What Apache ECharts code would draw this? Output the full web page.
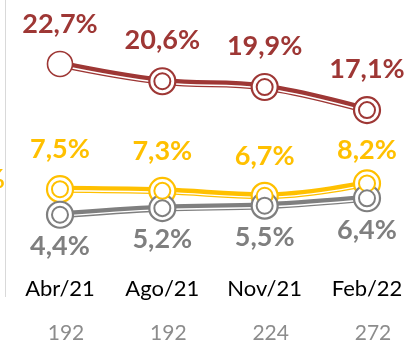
<!DOCTYPE html>
<html>
<head>
<meta charset="utf-8">
<script src="https://cdn.jsdelivr.net/npm/echarts@6/dist/echarts.min.js"></script>
<style>
  html, body { margin: 0; padding: 0; background: #fff; }
  #chart { width: 408px; height: 345px; }
</style>
</head>
<body>
<div id="chart"></div>
<script>
// Survey periods and sample sizes per period
const categories = ['Abr/21', 'Ago/21', 'Nov/21', 'Feb/22'];
const sampleSizes = ['192', '192', '224', '272'];

// Share (%) per period for each group
const redValues = [22.7, 20.6, 19.9, 17.1];
const yellowValues = [7.5, 7.3, 6.7, 8.2];
const grayValues = [4.4, 5.2, 5.5, 6.4];

const RED = '#9E3735';
const YELLOW = '#FFC000';
const GRAY = '#7F7F7F';
const FONT = 'Lato';

const fmt = (p) => p.value.toFixed(1).replace('.', ',') + '%';

const chart = echarts.init(document.getElementById('chart'), null, { renderer: 'canvas' });

const gridMain = { left: 60, right: 41, top: 45, height: 206 };
const gridStripe = { left: 60, right: 41, top: 46.5, height: 206 };

function lineSeries(values, color, labelPos, labelDist, opts) {
  opts = opts || {};
  const out = [];
  // thick coloured band
  out.push({
    type: 'line', data: values, xAxisIndex: 0, yAxisIndex: 0,
    smooth: 0.4, symbol: 'none', silent: true,
    lineStyle: { color: color, width: 7, cap: 'round' },
    z: 2
  });
  // thin white gap of the double stroke
  out.push({
    type: 'line', data: values, xAxisIndex: 2, yAxisIndex: 1,
    smooth: 0.4, symbol: 'none', silent: true,
    lineStyle: { color: '#ffffff', width: 1.4 },
    z: 3
  });
  // outer ring of each marker, carries the value label
  out.push({
    type: 'line', data: values.map((v, i) => {
      const item = { value: v };
      if (opts.singleRingFirst && i === 0) {
        item.symbolSize = 25;
        item.itemStyle = { borderWidth: 1.6 };
      }
      if (opts.labelDist && opts.labelDist[i] != null) {
        item.label = { distance: opts.labelDist[i] };
      }
      return item;
    }),
    xAxisIndex: 0, yAxisIndex: 0,
    symbol: 'circle', symbolSize: 26, showAllSymbol: true,
    lineStyle: { width: 0, opacity: 0 },
    itemStyle: { color: '#ffffff', borderColor: color, borderWidth: 2.2 },
    label: {
      show: true, position: labelPos, distance: labelDist,
      formatter: fmt, color: color,
      fontFamily: FONT, fontWeight: 'bold', fontSize: 27
    },
    z: 4
  });
  // inner ring of each marker
  out.push({
    type: 'line', data: values.map((v, i) => {
      if (opts.singleRingFirst && i === 0) return { value: v, symbolSize: 0, itemStyle: { opacity: 0 } };
      return v;
    }),
    xAxisIndex: 0, yAxisIndex: 0,
    symbol: 'circle', symbolSize: 16, showAllSymbol: true,
    lineStyle: { width: 0, opacity: 0 },
    itemStyle: { color: '#ffffff', borderColor: color, borderWidth: 2 },
    z: 5
  });
  return out;
}

const hiddenAxis = {
  axisLine: { show: false }, axisTick: { show: false },
  splitLine: { show: false }, axisLabel: { show: false }
};

chart.setOption({
  backgroundColor: '#ffffff',
  animation: false,
  grid: [gridMain, gridStripe],
  xAxis: [
    {
      type: 'category', data: categories, gridIndex: 0, boundaryGap: false,
      axisLine: { show: false }, axisTick: { show: false }, splitLine: { show: false },
      axisLabel: { color: '#000000', fontFamily: FONT, fontSize: 22, margin: 27 }
    },
    {
      type: 'category', data: sampleSizes, gridIndex: 0, boundaryGap: false,
      position: 'bottom',
      axisLine: { show: false }, axisTick: { show: false }, splitLine: { show: false },
      axisLabel: { color: '#8C8C8C', fontFamily: FONT, fontSize: 21, margin: 72, padding: [0, 0, 0, 12] }
    },
    Object.assign({ type: 'category', data: categories, gridIndex: 1, boundaryGap: false }, hiddenAxis)
  ],
  yAxis: [
    Object.assign({ type: 'value', min: 0, max: 25, gridIndex: 0 }, hiddenAxis),
    Object.assign({ type: 'value', min: 0, max: 25, gridIndex: 1 }, hiddenAxis)
  ],
  graphic: [
    {
      type: 'line', silent: true,
      shape: { x1: 5.5, y1: 0, x2: 5.5, y2: 297 },
      style: { stroke: '#D9D9D9', lineWidth: 1 }
    },
    {
      // tail of the neighbouring panel's label, cut by the panel edge
      type: 'text', silent: true, x: 5, y: 179,
      style: {
        text: '%', fill: YELLOW, font: 'bold 27px Lato',
        align: 'right', verticalAlign: 'middle'
      }
    }
  ],
  series: [].concat(
    lineSeries(redValues, RED, 'top', 13, { singleRingFirst: true }),
    lineSeries(yellowValues, YELLOW, 'top', 12, { labelDist: [null, null, null, 6] }),
    lineSeries(grayValues, GRAY, 'bottom', 4)
  )
});
</script>
</body>
</html>
